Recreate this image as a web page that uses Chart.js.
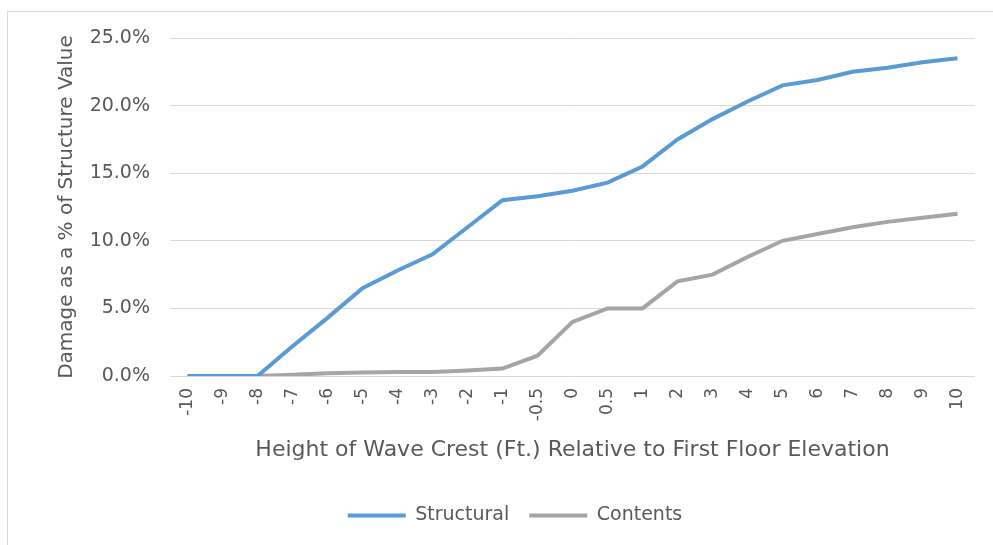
<!DOCTYPE html>
<html>
<head>
<meta charset="utf-8">
<script src="https://cdn.jsdelivr.net/npm/chart.js@4.4.0/dist/chart.umd.min.js"></script>
<style>
  html, body { margin: 0; padding: 0; background: #fff; }
  #frame { position: absolute; left: 7px; top: 11px; width: 1000px; height: 540px; border: 1px solid #d9d9d9; }
  #chart { position: absolute; left: 0; top: 0; }
</style>
</head>
<body>
<div id="frame"></div>
<canvas id="chart" width="993" height="545"></canvas>
<script>
const categories = ["-10", "-9", "-8", "-7", "-6", "-5", "-4", "-3", "-2", "-1", "-0.5", "0", "0.5", "1", "2", "3", "4", "5", "6", "7", "8", "9", "10"]
const structural = [0, 0, 0, 2.2, 4.3, 6.5, 7.8, 9.0, 11.0, 13.0, 13.3, 13.7, 14.3, 15.5, 17.5, 19.0, 20.3, 21.5, 21.9, 22.5, 22.8, 23.2, 23.5]
const contents = [0, 0, 0, 0.1, 0.2, 0.25, 0.3, 0.3, 0.4, 0.55, 1.5, 4.0, 5.0, 5.0, 7.0, 7.5, 8.8, 10.0, 10.5, 11.0, 11.4, 11.7, 12.0]
const yTicks = [0, 5, 10, 15, 20, 25]

const textColor = "#595959"
const fontFamily = "'DejaVu Sans', sans-serif"

new Chart(document.getElementById("chart"), {
  type: "line",
  data: {
    labels: categories,
    datasets: [
      { label: "Structural", data: structural, borderColor: "#5B9BD5", backgroundColor: "#5B9BD5", borderWidth: 4, pointRadius: 0, tension: 0 },
      { label: "Contents", data: contents, borderColor: "#A5A5A5", backgroundColor: "#A5A5A5", borderWidth: 4, pointRadius: 0, tension: 0 },
    ],
  },
  options: {
    responsive: false,
    animation: false,
    layout: { padding: { left: 55, right: 18, top: 38, bottom: 10 } },
    plugins: {
      tooltip: { enabled: false },
      legend: {
        position: "bottom",
        labels: {
          usePointStyle: true,
          pointStyle: "line",
          pointStyleWidth: 58,
          color: textColor,
          font: { family: fontFamily, size: 19 },
          padding: 20,
        },
      },
    },
    scales: {
      x: {
        offset: true,
        grid: { display: false },
        border: { display: false },
        ticks: {
          color: textColor,
          font: { family: fontFamily, size: 17 },
          minRotation: 90,
          maxRotation: 90,
          padding: 4,
          autoSkip: false,
        },
        title: {
          display: true,
          text: "Height of Wave Crest (Ft.) Relative to First Floor Elevation",
          color: textColor,
          font: { family: fontFamily, size: 22 },
          padding: { top: 0, bottom: 23 },
        },
        afterFit: (scale) => { scale.height = 110 },
      },
      y: {
        min: 0,
        max: 25,
        afterBuildTicks: (scale) => { scale.ticks = yTicks.map((v) => ({ value: v })) },
        grid: { color: "#d9d9d9", lineWidth: 1, drawTicks: false },
        border: { display: false },
        ticks: {
          color: textColor,
          font: { family: fontFamily, size: 19 },
          padding: 20,
          callback: (v) => v.toFixed(1) + "%",
        },
        title: {
          display: true,
          text: "Damage as a % of Structure Value",
          color: textColor,
          font: { family: fontFamily, size: 20 },
          padding: { top: 0, bottom: 0 },
        },
        afterFit: (scale) => { scale.width = 115 },
      },
    },
  },
})
</script>
</body>
</html>
